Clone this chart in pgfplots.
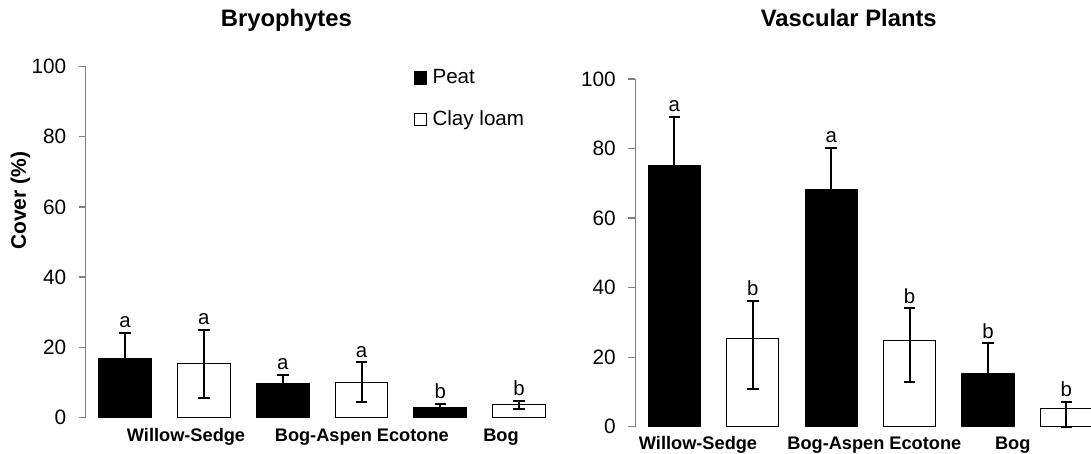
\documentclass[border=0pt]{standalone}
\usepackage{fontspec}
\setmainfont{Liberation Sans}
\usepackage{pgfplots}
\pgfplotsset{compat=1.18}
\definecolor{axgray}{RGB}{128,128,128}
\pgfplotsset{
  every axis title shift=0pt,
  panel/.style={
    scale only axis,
    anchor=south west,
    xmin=0.5, xmax=6.5, ymin=0, ymax=100,
    ytick={0,20,40,60,80,100},
    axis lines*=left,
    x axis line style={draw=none},
    y axis line style={draw=axgray, line width=0.6pt},
    xtick style={draw=none},
    ytick style={draw=axgray, line width=0.6pt},
    tick align=outside,
    major tick length=3.5pt,
    /pgf/number format/assume math mode=true,
    yticklabel style={font=\fontsize{10.4}{12}\selectfont, inner sep=0pt, anchor=east, xshift=-6pt},
    xticklabel style={font=\fontsize{9.1}{11}\bfseries\selectfont, inner sep=0pt, anchor=base},
    title style={font=\fontsize{11.9}{14}\bfseries\selectfont, anchor=base, inner sep=0pt},
    clip=false,
  },
  peat/.style={ybar, mark=none, fill=black, draw=black, line width=0.5pt, bar width=0.668, bar shift=0pt,
    error bars/.cd, y dir=both, y explicit,
    error bar style={black, line width=1pt},
    error mark options={rotate=90, mark size=2.9pt, black, line width=1pt}},
  clay/.style={ybar, mark=none, fill=white, draw=black, line width=0.5pt, bar width=0.668, bar shift=0pt,
    error bars/.cd, y dir=both, y explicit,
    error bar style={black, line width=1pt},
    error mark options={rotate=90, mark size=2.9pt, black, line width=1pt}},
  letters/.style={draw=none, mark=none, forget plot, nodes near coords,
    point meta=explicit symbolic,
    every node near coord/.style={font=\fontsize{10.2}{12}\selectfont, anchor=base, inner sep=0pt, yshift=2.6pt}},
}
\begin{document}
\begin{tikzpicture}
\useasboundingbox (0,0) rectangle (545.5pt,227pt);
\clip (0,0) rectangle (545.5pt,227pt);
% ---------------- Bryophytes ----------------
\begin{axis}[panel,
  at={(42.85pt,18.35pt)}, width=236.4pt, height=175.3pt,
  xtick={1.773,4.004,5.77},
  xticklabels={Willow-Sedge,Bog-Aspen Ecotone,Bog},
  xticklabel style={yshift=-8.5pt},
  title={Bryophytes},
  title style={at={(axis description cs:0.4243,1.116)}},
  ylabel={Cover (\%)},
  ylabel style={at={(axis description cs:-0.1379,0.6175)}, anchor=center, font=\fontsize{10.5}{12}\bfseries\selectfont},
  legend style={at={(axis description cs:0.693,0.9935)}, anchor=north west, draw=none, fill=none,
    inner sep=0pt, row sep=12pt, column sep=2.6pt, font=\fontsize{10.3}{12}\selectfont,
    nodes={inner sep=0pt}},
  legend cell align=left,
  legend image code/.code={\draw[#1, line width=0.6pt] (0pt,-3.1pt) rectangle (6.2pt,3.1pt);},
]
\addplot[peat] coordinates {
  (1,16.7) +- (0,7.4)
  (3,9.7)  +- (0,2.4)
  (5,2.9)  +- (0,1.0)
};
\addlegendentry{Peat}
\addplot[clay] coordinates {
  (2,15.4) += (0,9.5) -= (0,9.8)
  (4,10.0) += (0,5.7) -= (0,5.7)
  (6,3.6)  += (0,1.1) -= (0,1.2)
};
\addlegendentry{Clay loam}
\addplot[letters] coordinates {
  (1,24.1) [a] (2,24.9) [a] (3,12.1) [a] (4,15.7) [a] (5,3.9) [b] (6,4.7) [b]
};
\end{axis}
% ---------------- Vascular Plants ----------------
\begin{axis}[panel,
  at={(317.6pt,13.65pt)}, width=235.2pt, height=173.85pt,
  xtick={1.301,3.55,5.316},
  xticklabels={Willow-Sedge,Bog-Aspen Ecotone,Bog},
  xticklabel style={yshift=-7.7pt},
  title={Vascular Plants},
  title style={at={(axis description cs:0.454,1.1524)}},
]
\addplot[peat] coordinates {
  (1,75.0) +- (0,14.2)
  (3,68.3) +- (0,11.9)
  (5,15.3) +- (0,8.7)
};
\addplot[clay] coordinates {
  (2,25.4) += (0,10.8) -= (0,14.5)
  (4,24.7) += (0,9.3)  -= (0,11.9)
  (6,5.2)  += (0,2.0)  -= (0,5.2)
};
\addplot[letters] coordinates {
  (1,89.2) [a] (2,36.2) [b] (3,80.2) [a] (4,34.0) [b] (5,24.0) [b] (6,7.2) [b]
};
\end{axis}
\end{tikzpicture}
\end{document}
